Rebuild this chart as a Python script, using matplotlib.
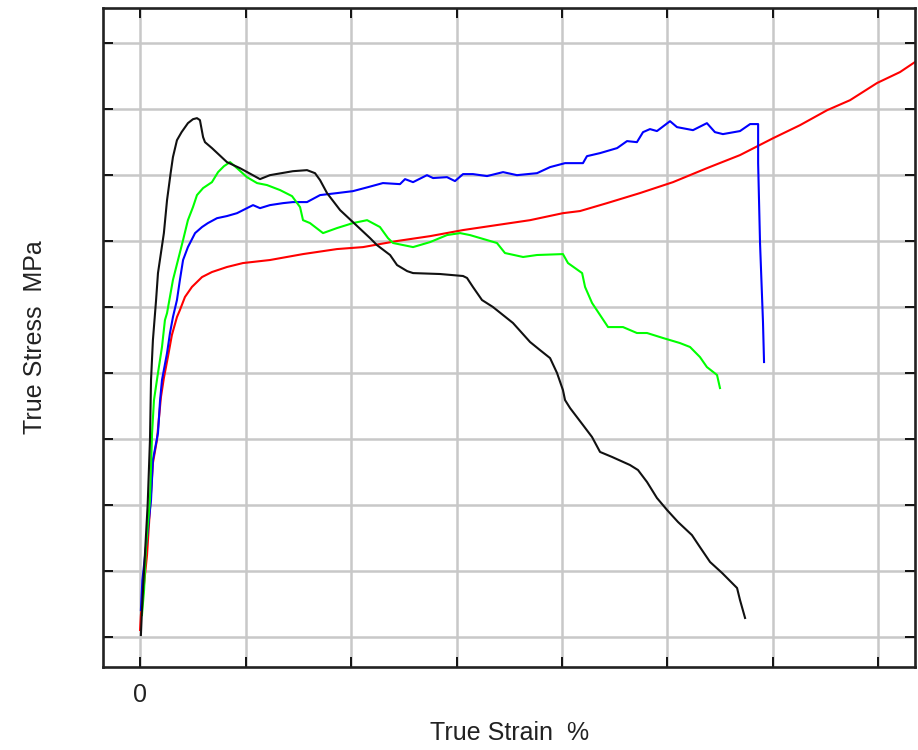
import matplotlib.pyplot as plt

# true strain (%) / true stress (MPa)
black_x = [0.02, 0.07, 0.17, 0.34, 0.45, 0.50, 0.59, 0.74, 0.83, 1.11, 1.26, 1.43, 1.54, 1.73,
           1.95, 2.25, 2.49, 2.68, 2.82, 2.97, 3.06, 3.39, 4.10, 4.72, 5.67, 6.14, 7.23, 7.90,
           8.28, 8.52, 8.85, 9.47, 10.08, 10.89, 11.22, 11.84, 12.17, 12.65, 12.93, 14.21,
           15.30, 15.49, 15.77, 16.20, 16.72, 17.67, 18.48, 18.95, 19.43, 19.76, 20.04, 20.14,
           20.38, 20.99, 21.42, 21.80, 22.37, 23.22, 23.60, 24.03, 24.50, 24.98, 25.50, 26.16,
           26.54, 27.02, 27.59, 28.30, 28.44, 28.68]
black_y = [1.3, 20.2, 50.5, 99.8, 149.0, 194.5, 224.8, 255.1, 275.5, 305.8, 330.8, 351.2, 363.4,
           376.2, 382.3, 389.1, 392.1, 392.9, 391.4, 378.5, 374.7, 370.2, 359.6, 355.0, 346.7,
           349.7, 352.7, 353.5, 351.2, 345.9, 336.1, 323.2, 314.1, 302.0, 296.7, 289.2, 281.6,
           277.0, 275.5, 274.8, 273.3, 271.8, 265.0, 255.1, 249.8, 237.7, 223.3, 217.2, 211.1,
           199.8, 186.9, 179.3, 173.2, 160.4, 151.3, 140.0, 136.2, 130.1, 126.3, 117.2, 105.1,
           96.0, 86.9, 77.0, 67.9, 56.6, 48.3, 36.9, 27.8, 14.2]

green_x = [0.07, 0.17, 0.26, 0.45, 0.55, 0.64, 0.83, 1.02, 1.16, 1.26, 1.54, 1.78, 2.02, 2.25,
           2.49, 2.68, 2.97, 3.39, 3.68, 3.96, 4.25, 4.58, 5.05, 5.53, 6.00, 6.62, 7.19, 7.57,
           7.71, 8.04, 8.66, 9.32, 10.08, 10.75, 11.36, 11.74, 11.98, 12.93, 13.74, 14.54,
           15.16, 15.63, 16.44, 16.91, 17.29, 18.15, 18.81, 20.04, 20.28, 20.95, 21.09, 21.42,
           22.18, 22.89, 23.55, 24.03, 24.79, 25.59, 26.07, 26.54, 26.87, 27.35, 27.49]
green_y = [16.4, 35.4, 67.9, 103.5, 154.3, 179.3, 199.8, 219.5, 239.9, 245.2, 270.3, 285.4,
           300.5, 315.6, 325.5, 334.6, 339.9, 344.4, 352.0, 356.5, 359.6, 355.0, 348.2, 343.7,
           342.2, 338.4, 333.8, 325.5, 315.6, 313.4, 305.8, 309.6, 313.4, 315.6, 310.4, 302.0,
           298.3, 295.2, 299.0, 304.3, 305.8, 304.3, 300.5, 298.3, 290.7, 287.7, 289.2, 289.9,
           283.1, 275.5, 265.0, 252.9, 234.6, 234.6, 230.1, 230.1, 226.3, 222.5, 219.5, 211.9,
           204.3, 198.3, 188.4]

blue_x = [0.02, 0.09, 0.40, 0.50, 0.59, 0.83, 0.93, 1.02, 1.26, 1.40, 1.54, 1.73, 1.87, 2.02,
          2.25, 2.59, 2.92, 3.20, 3.63, 4.10, 4.58, 5.05, 5.34, 5.67, 6.14, 6.76, 7.23, 7.90,
          8.52, 9.32, 10.08, 10.79, 11.50, 12.31, 12.55, 12.93, 13.59, 13.88, 14.54, 14.92,
          15.30, 15.77, 16.44, 17.20, 17.86, 18.81, 19.43, 20.14, 20.99, 21.18, 21.80, 22.61,
          23.08, 23.55, 23.84, 24.17, 24.50, 25.12, 25.45, 26.21, 26.87, 27.25, 27.63, 28.44,
          28.92, 29.30, 29.30, 29.39, 29.53, 29.58]
blue_y = [20.2, 42.9, 88.4, 103.5, 133.9, 154.3, 179.3, 194.5, 214.9, 230.1, 242.2, 255.1, 270.3,
          285.4, 295.2, 305.8, 310.4, 313.4, 317.1, 318.7, 320.9, 324.7, 327.0, 324.7, 327.0,
          328.5, 329.3, 329.3, 334.6, 336.1, 337.6, 340.6, 343.7, 342.9, 346.7, 344.4, 349.7,
          347.5, 348.2, 345.2, 350.5, 350.5, 349.0, 352.0, 349.7, 351.2, 355.8, 358.8, 358.8,
          364.1, 366.4, 370.2, 375.5, 374.7, 382.3, 384.6, 383.1, 390.6, 386.1, 383.8, 389.1,
          382.3, 380.8, 383.1, 388.4, 388.4, 358.8, 298.3, 238.4, 208.1]

red_x = [-0.02, 0.02, 0.31, 0.59, 0.78, 0.97, 1.11, 1.30, 1.49, 1.73, 1.87, 2.11, 2.44, 2.92,
         3.39, 4.10, 4.86, 6.14, 7.71, 9.32, 10.56, 12.17, 13.74, 15.30, 16.91, 18.48, 20.04,
         20.85, 22.13, 23.69, 25.26, 26.87, 28.44, 30.01, 31.29, 32.57, 33.66, 34.94, 36.03,
         36.74, 37.2]
red_y = [5.1, 16.4, 61.9, 131.6, 149.0, 181.5, 196.0, 211.9, 228.6, 242.2, 247.5, 257.4, 265.0,
         272.5, 276.3, 280.1, 283.1, 285.4, 289.9, 293.7, 295.2, 299.8, 303.5, 308.1, 311.9,
         315.6, 320.9, 322.5, 328.5, 336.1, 344.4, 355.0, 364.9, 377.7, 387.6, 398.9, 406.5,
         419.5, 427.8, 435.4, 439.2]

x_ticks = [0, 5, 10, 15, 20, 25, 30, 35]
y_ticks = [0, 50, 100, 150, 200, 250, 300, 350, 400, 450]

plt.rcParams['font.family'] = ['Liberation Sans', 'DejaVu Sans']

fig = plt.figure(figsize=(9.18, 7.5), dpi=100)
ax = fig.add_axes([0.1125, 0.1111, 0.8842, 0.8778])

ax.plot(red_x, red_y, color='#ff0000', lw=1.5)
ax.plot(blue_x, blue_y, color='#0000ff', lw=1.5)
ax.plot(green_x, green_y, color='#00ff00', lw=1.5)
ax.plot(black_x, black_y, color='#111111', lw=1.5)

ax.set_xlim(-1.765, 36.74)
ax.set_ylim(-22.7, 476.1)
ax.set_xticks(x_ticks)
ax.set_xticklabels(['0'] + [''] * (len(x_ticks) - 1))
ax.set_yticks(y_ticks)
ax.set_yticklabels([])
ax.grid(True, color='#c8c8c8', lw=1.8)
ax.set_axisbelow(True)
ax.tick_params(direction='in', length=7, width=1.4, color='#111111',
               top=True, right=True, labelsize=18, pad=12, labelcolor='#222222')
for s in ax.spines.values():
    s.set_linewidth(1.9)
    s.set_color('#222222')

ax.set_xlabel('True Strain  %', fontsize=18, color='#222222')
ax.xaxis.set_label_coords(0.5, -0.083)
ax.set_ylabel('True Stress  MPa', fontsize=18, color='#222222')
ax.yaxis.set_label_coords(-0.069, 0.5)

fig.savefig('out.png', dpi=100)
